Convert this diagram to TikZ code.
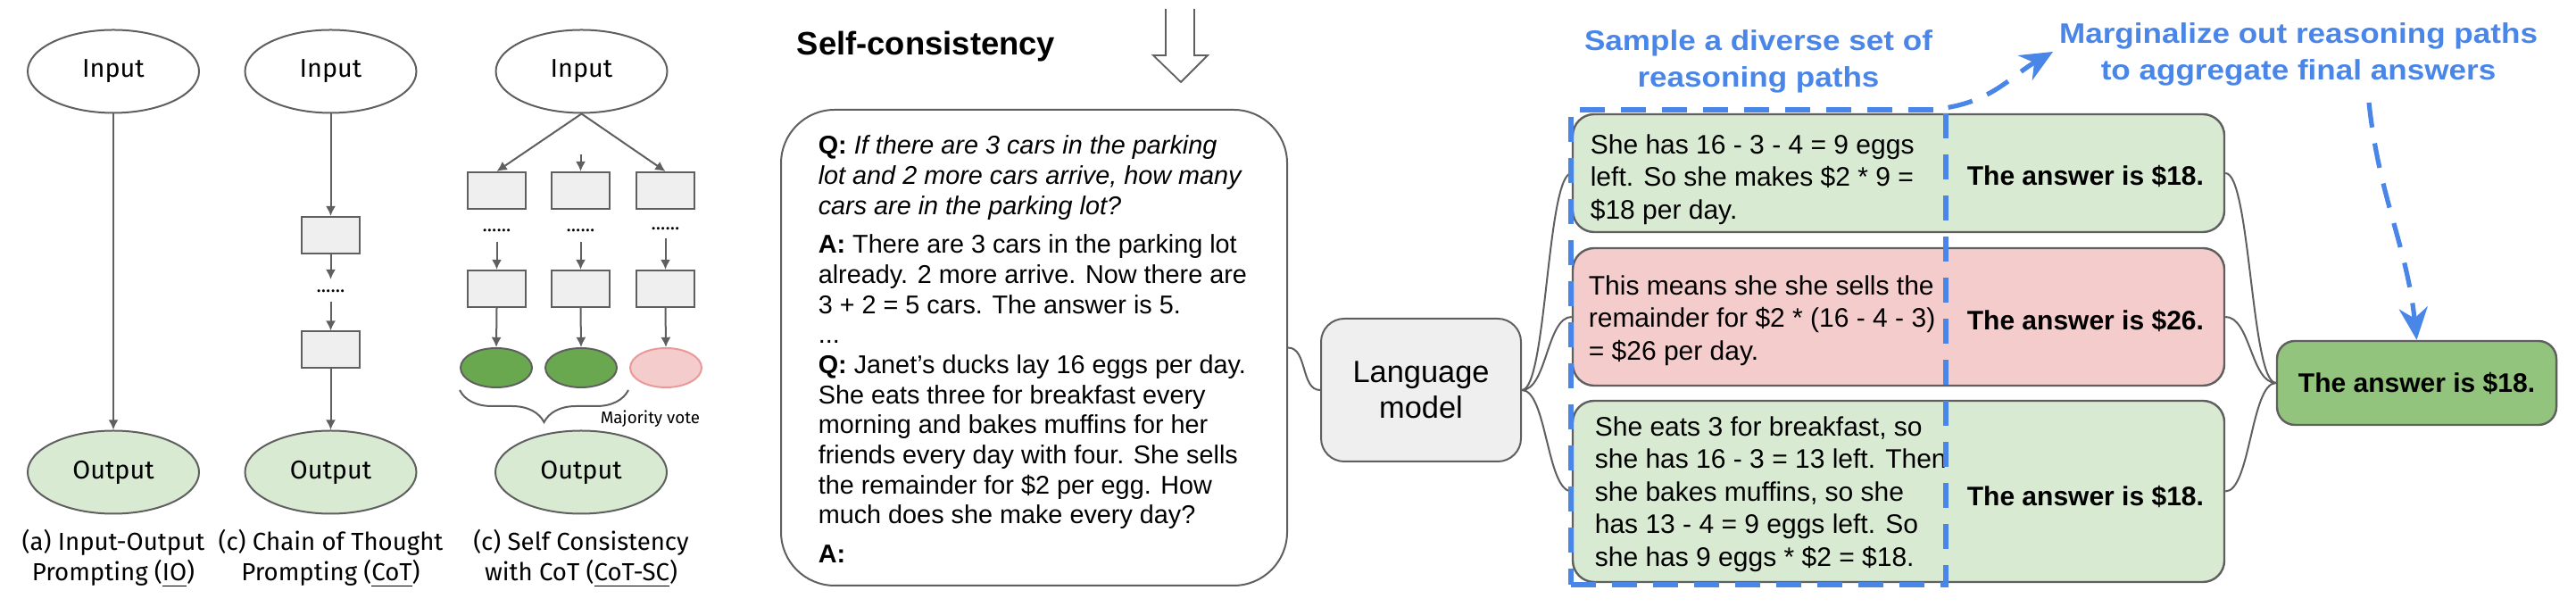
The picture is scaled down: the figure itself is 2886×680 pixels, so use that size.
\documentclass[tikz,border=0pt]{standalone}
\usepackage{fontspec}
\setmainfont{Liberation Sans}
\newfontfamily\ubfont{Fira Sans}
\usepackage{graphicx}
\usetikzlibrary{arrows.meta,shapes.geometric,decorations.pathreplacing}
\definecolor{linegray}{HTML}{5F5F5F}
\definecolor{boxgray}{HTML}{EFEFEF}
\definecolor{lightgreen}{HTML}{D9EAD3}
\definecolor{pinkfill}{HTML}{F4CCCC}
\definecolor{pinkline}{HTML}{EA9999}
\definecolor{midgreen}{HTML}{93C47D}
\definecolor{votegreen}{HTML}{6AA84F}
\definecolor{myblue}{HTML}{4A86E8}
\begin{document}
\begin{tikzpicture}[x=0.25pt,y=-0.25pt,
  lbl/.style={font=\ubfont\fontsize{7.2pt}{8.6pt}\selectfont},
  inell/.style={ellipse, draw=linegray, line width=0.5pt, fill=white, minimum width=48pt, minimum height=23.25pt, inner sep=0pt, lbl},
  outell/.style={inell, fill=lightgreen},
  sbox/.style={rectangle, draw=linegray, line width=0.5pt, fill=boxgray, minimum width=16.25pt, minimum height=10.25pt, inner sep=0pt},
  vote/.style={ellipse, draw=linegray, line width=0.5pt, fill=votegreen, minimum width=20pt, minimum height=11pt, inner sep=0pt},
  badvote/.style={vote, draw=pinkline, fill=pinkfill},
  arr/.style={draw=linegray, line width=0.5pt, -{Latex[length=2.8pt,width=2.8pt]}},
  dotrow/.style={font=\ubfont\fontsize{5.5pt}{6pt}\selectfont, inner sep=0pt, anchor=base},
  capt/.style={font=\ubfont\fontsize{6.9pt}{8.6pt}\selectfont, align=center, anchor=north, inner sep=0pt},
  conn/.style={draw=linegray, line width=0.5pt},
  rbox/.style={rectangle, rounded corners=6pt, draw=linegray, line width=0.6pt, minimum width=182.5pt, inner sep=0pt},
  rtext/.style={font=\fontsize{7.5pt}{9.1pt}\selectfont, align=left, anchor=north west, inner sep=0pt},
  ans/.style={font=\bfseries\fontsize{7.5pt}{9pt}\selectfont, anchor=base west, inner sep=0pt},
  bluehead/.style={font=\bfseries\fontsize{7.9pt}{10.25pt}\selectfont, text=myblue, align=center, anchor=north, inner sep=0pt},
  bluedash/.style={draw=myblue, line width=1.3pt, dash pattern=on 7pt off 4.5pt},
  bluetip/.style={-{Stealth[length=9pt,width=8pt]}}
]
\useasboundingbox (0,0) rectangle (2886,680);

% ---------- column 1: IO ----------
\node[inell] (in1) at (127,80) {Input};
\node[outell] (out1) at (127,529) {Output};
\draw[arr] (in1.south) -- (out1.north);
\node[capt] (cap1) at (127,592) {(a) Input-Output\\Prompting (\underline{IO})};

% ---------- column 2: CoT ----------
\node[inell] (in2) at (370.5,80) {Input};
\node[sbox] (c1) at (370.5,263.5) {};
\node[dotrow] (d2) at (370.5,328) {......};
\node[sbox] (c2) at (370.5,392) {};
\node[outell] (out2) at (370.5,529) {Output};
\coordinate (d2a) at (370.5,313);
\coordinate (d2b) at (370.5,338);
\draw[arr] (in2.south) -- (c1.north);
\draw[arr] (c1.south) -- (d2a);
\draw[arr] (d2b) -- (c2.north);
\draw[arr] (c2.south) -- (out2.north);
\node[capt] (cap2) at (370.5,592) {(c) Chain of Thought\\Prompting (\underline{CoT})};

% ---------- column 3: CoT-SC ----------
\node[inell] (in3) at (651.5,80) {Input};
\node[sbox] (r1a) at (556.5,213.5) {};
\node[sbox] (r1b) at (650.5,213.5) {};
\node[sbox] (r1c) at (745.5,213.5) {};
\node[dotrow] (d3a) at (556.5,260) {......};
\node[dotrow] (d3b) at (650.5,260) {......};
\node[dotrow] (d3c) at (745.5,258) {......};
\node[sbox] (r2a) at (556.5,323.5) {};
\node[sbox] (r2b) at (650.5,323.5) {};
\node[sbox] (r2c) at (745.5,323.5) {};
\node[vote] (v1) at (556,412) {};
\node[vote] (v2) at (651,412) {};
\node[badvote] (v3) at (746,412) {};
\node[outell] (out3) at (651,529) {Output};
\coordinate (m3) at (650.5,173);
\coordinate (s1) at (556.5,271);
\coordinate (s2) at (650.5,271);
\coordinate (s3) at (745.5,267);
\draw[arr] (in3.south) -- (r1a.north);
\draw[arr] (in3.south) -- (r1c.north);
\draw[arr] (m3) -- (r1b.north);
\draw[arr] (s1) -- (r2a.north);
\draw[arr] (s2) -- (r2b.north);
\draw[arr] (s3) -- (r2c.north);
\draw[arr] (r2a.south) -- (v1.north);
\draw[arr] (r2b.south) -- (v2.north);
\draw[arr] (r2c.south) -- (v3.north);
\draw[linegray, line width=0.5pt, decorate, decoration={brace, amplitude=9pt}] (704,437) -- (515,437);
\node[font=\ubfont\fontsize{4.7pt}{5pt}\selectfont, anchor=base west, inner sep=0pt] (mv) at (672,475) {Majority vote};
\node[capt] (cap3) at (651,592) {(c) Self Consistency\\with CoT (\underline{CoT-SC})};

% ---------- middle: prompt ----------
\node[font=\bfseries\fontsize{9.1pt}{11pt}\selectfont, anchor=base west, inner sep=0pt] (title) at (892,62) {Self-consistency};
\draw[linegray, line width=0.45pt] (1306,10) -- (1306,62) -- (1292,62) -- (1323,92) -- (1353,62) -- (1338,62) -- (1338,10);
\node[rectangle, rounded corners=15pt, draw=linegray, line width=0.5pt, minimum width=141.75pt, minimum height=133.25pt, inner sep=0pt] (prompt) at (1158.5,389.5) {};
\node[font=\fontsize{7.2pt}{8.42pt}\selectfont, align=left, anchor=north west, inner sep=0pt] (ptext) at (916,151) {%
\textbf{Q:} \textit{If there are 3 cars in the parking}\\
\textit{lot and 2 more cars arrive, how many}\\
\textit{cars are in the parking lot?}\\[2.5pt]
\textbf{A:} There are 3 cars in the parking lot\\
already. 2 more arrive. Now there are\\
3 + 2 = 5 cars. The answer is 5.\\
...\\
\textbf{Q:} Janet’s ducks lay 16 eggs per day.\\
She eats three for breakfast every\\
morning and bakes muffins for her\\
friends every day with four. She sells\\
the remainder for \$2 per egg. How\\
much does she make every day?\\[2.5pt]
\textbf{A:}};
\node[rectangle, rounded corners=6.5pt, draw=linegray, fill=boxgray, line width=0.5pt, minimum width=56pt, minimum height=40pt, inner sep=0pt, align=center, font=\fontsize{8.6pt}{10pt}\selectfont] (lm) at (1592,437) {Language\\model};

% ---------- right: reasoning paths ----------
\node[rbox, fill=lightgreen, minimum height=33pt] (pA) at (2127,194) {};
\node[rbox, fill=pinkfill, minimum height=38.5pt] (pB) at (2127,355) {};
\node[rbox, fill=lightgreen, minimum height=50.75pt] (pC) at (2127,550.5) {};
\node[rtext] (tA) at (1781,150) {She has 16 - 3 - 4 = 9 eggs\\left. So she makes \$2 * 9 =\\\$18 per day.};
\node[rtext] (tB) at (1779,308) {This means she she sells the\\remainder for \$2 * (16 - 4 - 3)\\= \$26 per day.};
\node[rtext] (tC) at (1786,466) {She eats 3 for breakfast, so\\she has 16 - 3 = 13 left. Then\\she bakes muffins, so she\\has 13 - 4 = 9 eggs left. So\\she has 9 eggs * \$2 = \$18.};
\node[ans] (aA) at (2203,208) {The answer is \$18.};
\node[ans] (aB) at (2203,370) {The answer is \$26.};
\node[ans] (aC) at (2203,567) {The answer is \$18.};
\node[rectangle, rounded corners=5pt, draw=linegray, fill=midgreen, line width=0.6pt, minimum width=78.25pt, minimum height=23.5pt, inner sep=0pt, font=\bfseries\fontsize{7.5pt}{9pt}\selectfont] (final) at (2707.5,429) {The answer is \$18.};

\draw[conn] (prompt.east) .. controls +(22,0) and +(-22,0) .. (lm.west);
\draw[conn] (lm.east) .. controls +(28,0) and +(-28,0) .. (pA.west);
\draw[conn] (lm.east) .. controls +(28,0) and +(-28,0) .. (pB.west);
\draw[conn] (lm.east) .. controls +(28,0) and +(-28,0) .. (pC.west);
\draw[conn] (pA.east) .. controls +(28,0) and +(-28,0) .. (final.west);
\draw[conn] (pB.east) .. controls +(28,0) and +(-28,0) .. (final.west);
\draw[conn] (pC.east) .. controls +(28,0) and +(-28,0) .. (final.west);

% ---------- blue annotations ----------
\node[bluedash, rectangle, minimum width=105pt, minimum height=133pt, inner sep=0pt] (sel) at (1970,389) {};
\node[bluehead] (h1) at (1970,33) {\scalebox{1.11}[1]{Sample a diverse set of}\\\scalebox{1.11}[1]{reasoning paths}};
\node[bluehead] (h2) at (2575,25) {\scalebox{1.11}[1]{Marginalize out reasoning paths}\\\scalebox{1.11}[1]{to aggregate final answers}};
\coordinate (tipA) at (2300,58);
\coordinate (startB) at (2654,115);
\draw[bluedash, bluetip] (sel.north east) to[out=10,in=210] (tipA);
\draw[bluedash, bluetip] (startB) to[out=-84,in=96] (final.north);
\end{tikzpicture}
\end{document}
